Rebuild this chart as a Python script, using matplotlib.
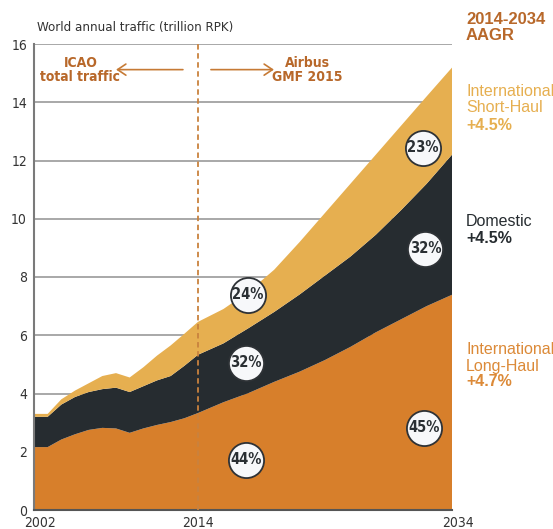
import numpy as np
import matplotlib
matplotlib.use("Agg")
import matplotlib.pyplot as plt
import matplotlib.transforms as mtransforms

# dati (trilioni di RPK)
anni = [2002, 2003, 2004, 2005, 2006, 2007, 2008, 2009, 2010, 2011, 2012, 2013, 2014,
        2016, 2018, 2020, 2022, 2024, 2026, 2028, 2030, 2032, 2034]
long_haul = [2.16, 2.16, 2.42, 2.60, 2.75, 2.82, 2.80, 2.65, 2.80, 2.92, 3.02, 3.15, 3.33,
             3.70, 4.02, 4.40, 4.75, 5.15, 5.60, 6.10, 6.55, 7.00, 7.39]
domestic = [1.04, 1.04, 1.20, 1.28, 1.30, 1.33, 1.40, 1.40, 1.45, 1.53, 1.58, 1.80, 2.00,
            2.02, 2.23, 2.40, 2.65, 2.90, 3.10, 3.35, 3.75, 4.20, 4.81]
short_haul = [0.10, 0.10, 0.18, 0.22, 0.30, 0.45, 0.50, 0.50, 0.65, 0.85, 1.05, 1.10, 1.13,
              1.18, 1.25, 1.45, 1.80, 2.15, 2.50, 2.75, 2.90, 3.00, 2.99]

# quote percentuali nei cerchi (anno, valore, testo)
quote_anni = [2017.8, 2017.8, 2017.9, 2031.8, 2031.9, 2031.7]
quote_val = [1.72, 5.05, 7.39, 2.82, 8.97, 12.44]
quote_txt = ["44%", "32%", "24%", "45%", "32%", "23%"]

ARANCIO = "#D77F2B"
SCURO = "#262C30"
ORO = "#E6AF50"
MARRONE = "#B8682A"
LUNGO = "#DC8A38"
SANS = ["Liberation Sans", "DejaVu Sans"]
# carattere stretto (condensed)
STRETTO = dict(family="DejaVu Sans", fontstretch="condensed")

# asse x a tratti: storico piu' largo della previsione
def avanti(x):
    return np.interp(x, [2002, 2014, 2034], [0, 164, 418])

def indietro(p):
    return np.interp(p, [0, 164, 418], [2002, 2014, 2034])

fig = plt.figure(figsize=(5.53, 5.29), dpi=100)
ax = fig.add_axes([34 / 553, 1 - 510 / 529, (452 - 34) / 553, (510 - 44) / 529])
ax.set_xscale("function", functions=(avanti, indietro))

ax.stackplot(anni, long_haul, domestic, short_haul,
             colors=[ARANCIO, SCURO, ORO], linewidth=0, zorder=2)

ax.set_xlim(2002, 2034)
ax.set_ylim(0, 16)
ax.set_yticks(range(0, 17, 2))
ax.set_xticks([2002, 2014, 2034])
ax.yaxis.grid(True, color="#9a9a9a", linewidth=1.2, zorder=0)
ax.set_axisbelow(True)
for s in ["top", "right"]:
    ax.spines[s].set_visible(False)
ax.spines["left"].set_color("#7a7a7a")
ax.spines["left"].set_linewidth(1.5)
ax.spines["bottom"].set_color("#555555")
ax.spines["bottom"].set_linewidth(1.5)
ax.tick_params(length=0, labelsize=10, labelcolor="#333333")
ax.tick_params(axis="y", pad=5)
ax.tick_params(axis="x", pad=4)
for lab in ax.get_xticklabels() + ax.get_yticklabels():
    lab.set_family("DejaVu Sans")
    lab.set_stretch("condensed")
# etichette 2002 e 2034 leggermente spostate a destra, come nell'originale
sposta = mtransforms.ScaledTranslation(6 / 100, 0, fig.dpi_scale_trans)
xlabs = ax.get_xticklabels()
for i in (0, 2):
    xlabs[i].set_transform(xlabs[i].get_transform() + sposta)

# linea tratteggiata 2014
ax.axvline(2014, color="#C9823E", linestyle=(0, (3, 2)), linewidth=1.3, zorder=3)

ax.text(2002.2, 16.35, "World annual traffic (trillion RPK)", fontsize=9.5,
        color="#333333", va="bottom", ha="left", **STRETTO)

# frecce e testi in alto
stile = dict(arrowstyle="->,head_length=0.6,head_width=0.4", color="#C67A35", lw=1.2)
ax.annotate("", xy=(2007.8, 15.12), xytext=(2013.1, 15.12), arrowprops=stile)
ax.annotate("", xy=(2020.2, 15.12), xytext=(2014.8, 15.12), arrowprops=stile)
ax.text(2005.4, 15.1, "ICAO\ntotal traffic", fontweight="bold", fontsize=10,
        color=MARRONE, ha="center", va="center", linespacing=1.05, **STRETTO)
ax.text(2022.6, 15.1, "Airbus\nGMF 2015", fontweight="bold", fontsize=10,
        color=MARRONE, ha="center", va="center", linespacing=1.05, **STRETTO)

# cerchi con le quote
ax.scatter(quote_anni, quote_val, s=640, facecolor="#F7F8FA", edgecolor="#2E3236",
           linewidth=1.3, zorder=5)
for xa, ya, t in zip(quote_anni, quote_val, quote_txt):
    ax.text(xa, ya, t, fontweight="bold", fontsize=10.5, color="#2A2F33",
            ha="center", va="center", zorder=6, **STRETTO)

# etichette a destra (una riga per volta)
def riga(y_px, testo, colore, grassetto=False, size=11.5):
    fig.text(466 / 553, 1 - y_px / 529, testo, family=SANS, fontsize=size,
             fontweight="bold" if grassetto else "normal", color=colore,
             ha="left", va="center")

riga(19, "2014-2034", MARRONE, True, 12)
riga(36, "AAGR", MARRONE, True, 12)
riga(92, "International", ORO)
riga(108, "Short-Haul", ORO)
riga(125, "+4.5%", ORO, True)
riga(222, "Domestic", SCURO)
riga(238, "+4.5%", SCURO, True)
riga(350, "International", LUNGO)
riga(366, "Long-Haul", LUNGO)
riga(381, "+4.7%", LUNGO, True)

fig.savefig("out.png", dpi=100)
